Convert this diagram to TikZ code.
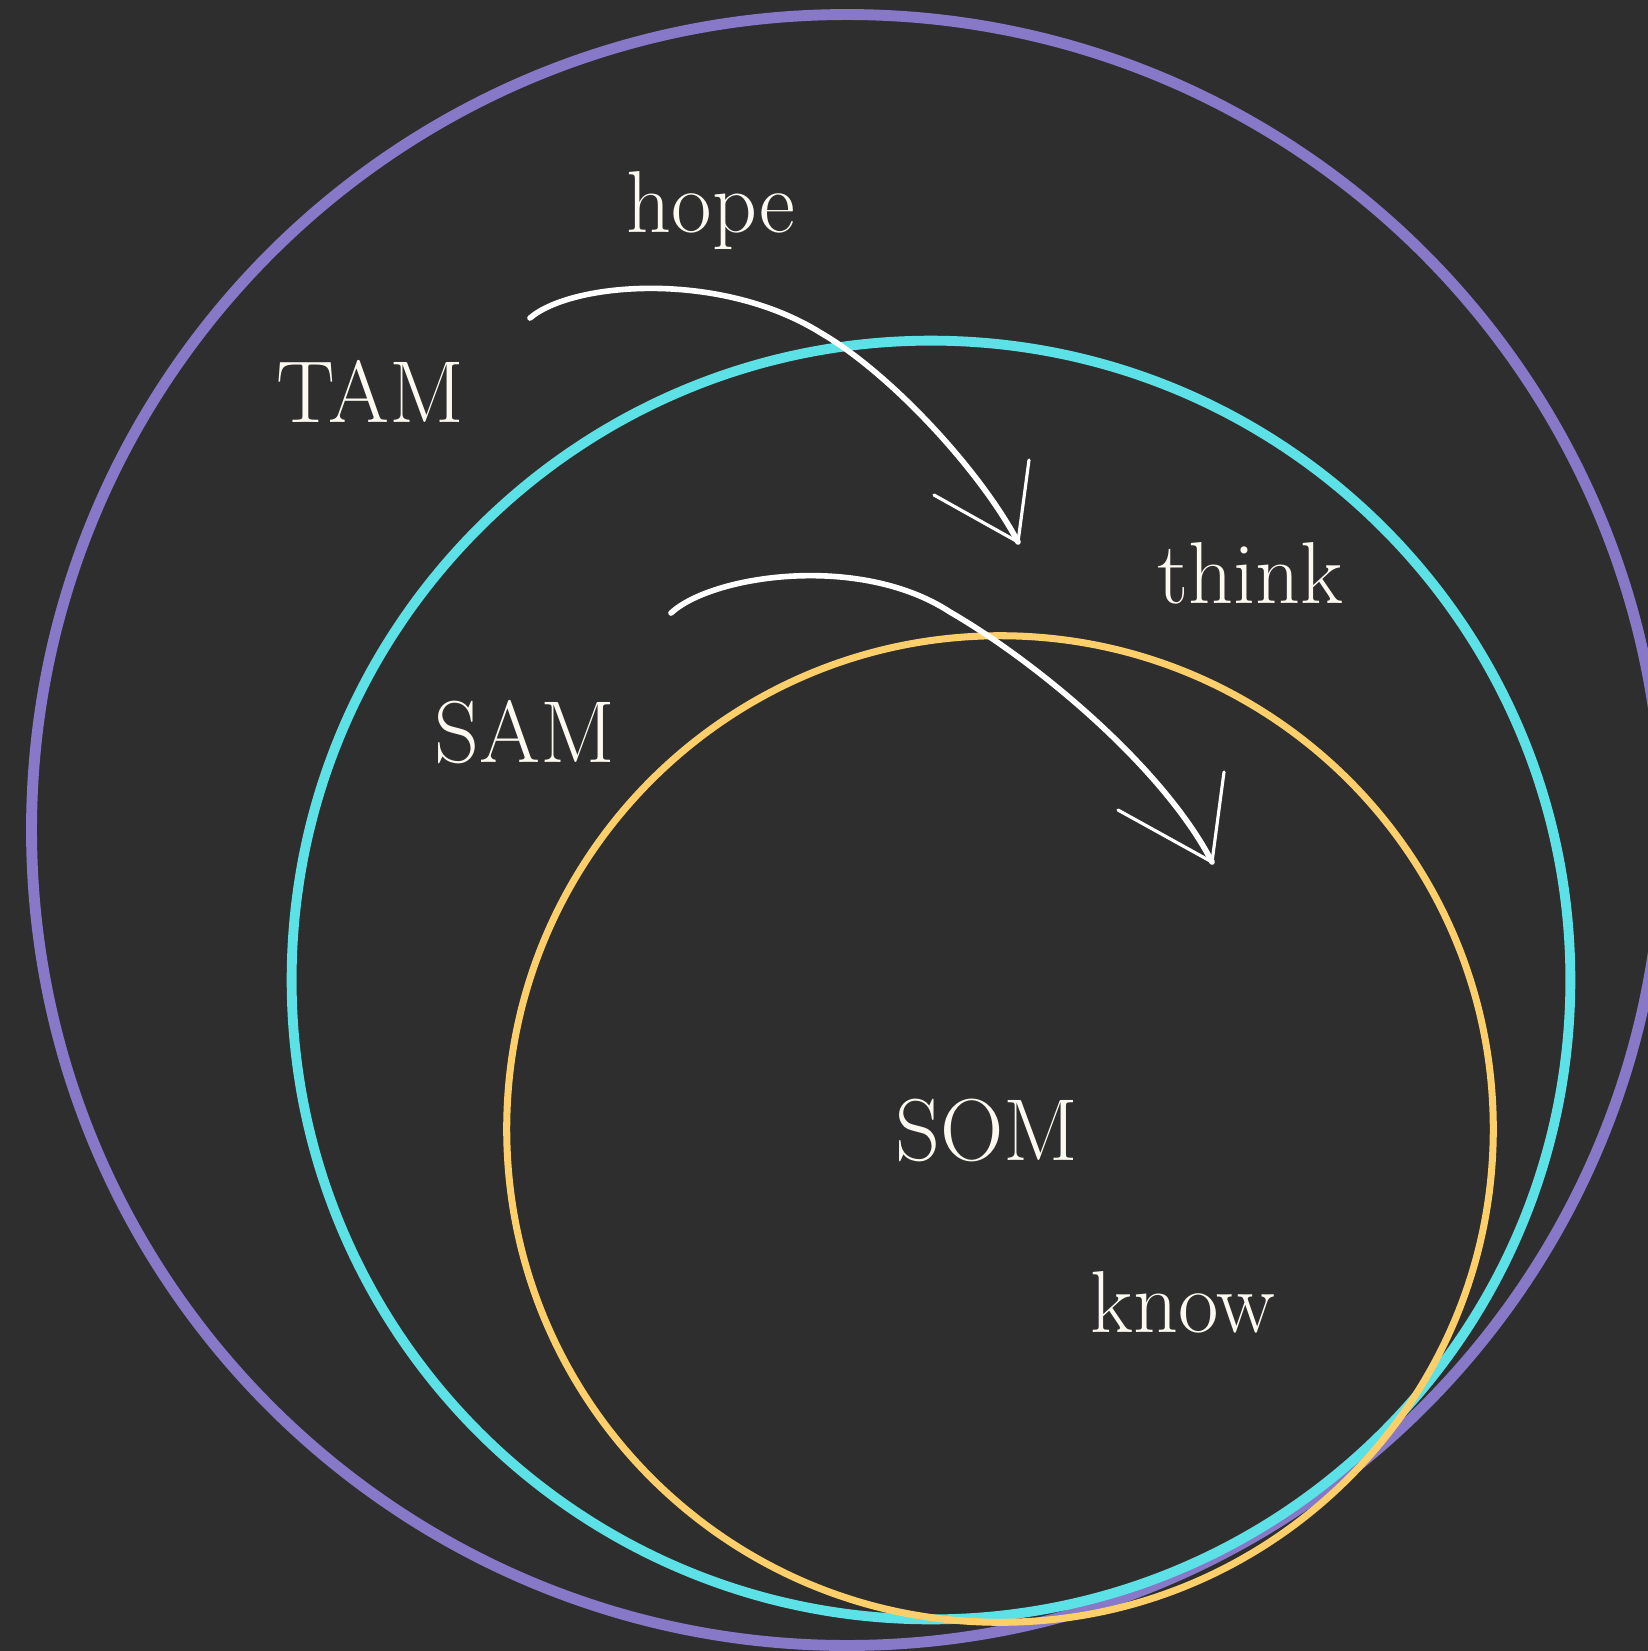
\documentclass[tikz,border=0pt]{standalone}
\definecolor{bg}{HTML}{2E2E2E}
\definecolor{tamc}{HTML}{8878C8}
\definecolor{samc}{HTML}{5CE1E6}
\definecolor{somc}{HTML}{FDCF6A}
\definecolor{ink}{HTML}{FCF9F1}
\begin{document}
\begin{tikzpicture}[
      x=0.01cm, y=-0.01cm,
      word/.style={text=ink, anchor=base, inner sep=0pt, font=\fontsize{25}{30}\selectfont},
      chalk/.style={draw=white, line width=1.6pt, line cap=round, line join=round},
      barb/.style={draw=white, line width=0.9pt, line cap=round}
  ]

  % Background
  \useasboundingbox (0,0) rectangle (1648,1651);
  \fill[bg] (0,0) rectangle (1648,1651);
  \clip (0,0) rectangle (1648,1651);

  % Circles
  \draw[tamc, line width=3.1pt] (847,830) circle[radius=8.15cm];
  \draw[samc, line width=2.8pt] (931,980) circle[radius=6.39cm];
  \draw[somc, line width=2pt] (1000,1129) circle[radius=4.93cm];

  % Labels
  \node[word] (hope) at (711,232) {hope};
  \node[word] (tam) at (370,422) {TAM};
  \node[word] (think) at (1250,603) {think};
  \node[word] (sam) at (525,762) {SAM};
  \node[word] (som) at (987,1160) {SOM};
  \node[word] (know) at (1183,1332) {know};

  % Arrow ends
  \coordinate (tamout) at (530,318);
  \coordinate (samin) at (1018,542);
  \coordinate (samleft) at (934,495);
  \coordinate (samright) at (1029,460);
  \coordinate (samout) at (671,613);
  \coordinate (somin) at (1212,862);
  \coordinate (somleft) at (1118,810);
  \coordinate (somright) at (1224,772);

  % Arrows
  \draw[chalk] (tamout) .. controls (572,282) and (720,270) .. (821,333)
                        .. controls (890,373) and (980,470) .. (samin);
  \draw[barb] (samleft) -- (samin);
  \draw[barb] (samright) -- (samin);
  \draw[chalk] (samout) .. controls (712,575) and (860,553) .. (950,612)
                        .. controls (1040,664) and (1165,770) .. (somin);
  \draw[barb] (somleft) -- (somin);
  \draw[barb] (somright) -- (somin);

\end{tikzpicture}
\end{document}
